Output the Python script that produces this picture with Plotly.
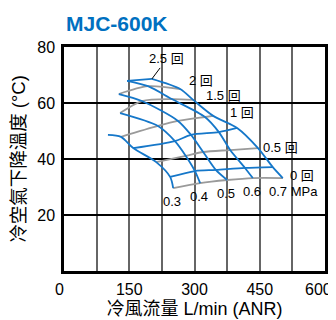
import plotly.graph_objects as go

BLUE = "#1577c9"
GRAY = "#9a9a9a"
FONT = "Liberation Sans, Noto Sans CJK TC"

# knob turns (回) along each pressure curve; 0.75 / 0.25 are the unlabeled blue rows
TURNS = [2.5, 2, 1.5, 1.25, 1, 0.75, 0.5, 0.25, 0]
LABELED_TURNS = [2.5, 2, 1.5, 1, 0.5, 0]
PRESSURES = ["0.3", "0.4", "0.5", "0.6", "0.7"]

FLOW_03 = [None, None, None, 101, 131, 159, 212, 244, 251]
TEMP_03 = [None, None, None, 48.6, 47.9, 43.9, 38.9, 33.6, 29.6]
FLOW_04 = [None, None, 129, None, 216, 255, 280, 301, 313]
TEMP_04 = [None, None, 56.4, None, 51.8, 46.4, 41.1, 35.7, 31.4]
FLOW_05 = [None, 126, 179, None, 262, 292, 320, 349, 375]
TEMP_05 = [None, 63.2, 60.7, None, 53.6, 48.6, 42.5, 36.1, 32.5]
FLOW_06 = [145, 193, 248, None, 324, 356, 382, 416, 434]
TEMP_06 = [67.9, 66.0, 61.4, None, 55.0, 49.6, 43.2, 36.8, 33.2]
FLOW_07 = [202, 267, 297, None, 343, 398, 446, 480, 503]
TEMP_07 = [68.6, 65.0, 61.1, None, 55.4, 51.1, 43.9, 37.1, 33.2]

X_TICKS = [0, 150, 300, 450, 600]
Y_TICKS = [20, 40, 60, 80]

flows = [FLOW_03, FLOW_04, FLOW_05, FLOW_06, FLOW_07]
temps = [TEMP_03, TEMP_04, TEMP_05, TEMP_06, TEMP_07]

fig = go.Figure()

# constant-turn rows (left to right, rising)
for i, n in enumerate(TURNS):
    xs = [f[i] for f in flows if f[i] is not None]
    ys = [t[i] for t in temps if t[i] is not None]
    if len(xs) < 2:
        continue
    color = GRAY if n in LABELED_TURNS and n != 2.5 else BLUE
    fig.add_trace(go.Scatter(x=xs, y=ys, mode="lines", line=dict(color=color, width=1.8, shape="spline", smoothing=0.8), hoverinfo="skip"))

# constant-pressure curves (falling)
for f, t in zip(flows, temps):
    fig.add_trace(go.Scatter(x=f, y=t, mode="lines", connectgaps=True, line=dict(color=BLUE, width=1.8, shape="spline", smoothing=0.8), hoverinfo="skip"))

annotations = []
# turn labels at the 0.7 MPa end of each row
turn_shift = {2: (7, 9), 1.5: (11, 4), 1: (15, 3), 0.5: (3, 1), 0: (5, 3)}
for n in LABELED_TURNS:
    i = TURNS.index(n)
    text = f"{n:g} 回"
    if n == 2.5:
        annotations.append(dict(x=FLOW_07[i], y=TEMP_07[i], text=text, showarrow=True, arrowhead=0, arrowwidth=1, arrowcolor="black", ax=15, ay=-20, font=dict(size=13, family=FONT, color="black")))
    else:
        dx, dy = turn_shift[n]
        annotations.append(dict(x=FLOW_07[i], y=TEMP_07[i], text=text, showarrow=False, xanchor="left", yanchor="middle", xshift=dx, yshift=dy, font=dict(size=13, family=FONT, color="black")))

# pressure labels under the 0-turn ends
for p, f, t in zip(PRESSURES, flows, temps):
    if p == "0.7":
        annotations.append(dict(x=f[-1], y=t[-1], text=p + " MPa", showarrow=False, xanchor="left", yanchor="middle", xshift=-16, yshift=-13, font=dict(size=13, family=FONT, color="black")))
    else:
        annotations.append(dict(x=f[-1], y=t[-1], text=p, showarrow=False, xanchor="center", yanchor="middle", xshift=-1, yshift=-13, font=dict(size=13, family=FONT, color="black")))

annotations.append(dict(xref="paper", yref="paper", x=0, y=1, yshift=24, xanchor="left", yanchor="middle", text="<b>MJC-600K</b>", showarrow=False, font=dict(size=21, family="Liberation Sans", color="#0070c0")))

# last x tick label sits flush with the right edge, so place it by hand
annotations.append(dict(x=X_TICKS[-1], y=0, text=str(X_TICKS[-1]), showarrow=False, xanchor="right", yanchor="middle", xshift=9, yshift=-18, font=dict(size=16, family=FONT, color="black")))

# page body keeps its 8px margin, so the figure is 8px smaller than the window
fig.update_layout(
    width=328, height=312,
    margin=dict(l=56, r=11, t=39, b=49),
    plot_bgcolor="white", paper_bgcolor="white",
    showlegend=False,
    annotations=annotations,
    font=dict(family=FONT, color="black"),
)


def x_label(v):
    if v not in X_TICKS or v == X_TICKS[-1]:
        return ""
    if v == X_TICKS[0]:
        return str(v) + "\u00a0\u00a0"
    return str(v)


fig.update_xaxes(
    range=[0, 600], tickvals=list(range(0, 601, 75)),
    ticktext=[x_label(v) for v in range(0, 601, 75)],
    tickfont=dict(size=16), ticks="", ticklabelstandoff=2, ticklabeloverflow="allow",
    showgrid=True, gridcolor="#666666", gridwidth=2,
    showline=True, mirror=True, linecolor="black", linewidth=2.5,
    zeroline=False, automargin=False,
    title=dict(text="冷風流量 L/min (ANR)", font=dict(size=18), standoff=6),
)
fig.update_yaxes(
    range=[0, 80], tickvals=Y_TICKS,
    tickfont=dict(size=16), ticks="", ticklabelstandoff=3,
    showgrid=True, gridcolor="black", gridwidth=1.5,
    showline=True, mirror=True, linecolor="black", linewidth=2.5,
    zeroline=False, automargin=False,
    title=dict(text="冷空氣下降溫度 (°C)", font=dict(size=18.5), standoff=10),
)

fig.write_html("out.html")
